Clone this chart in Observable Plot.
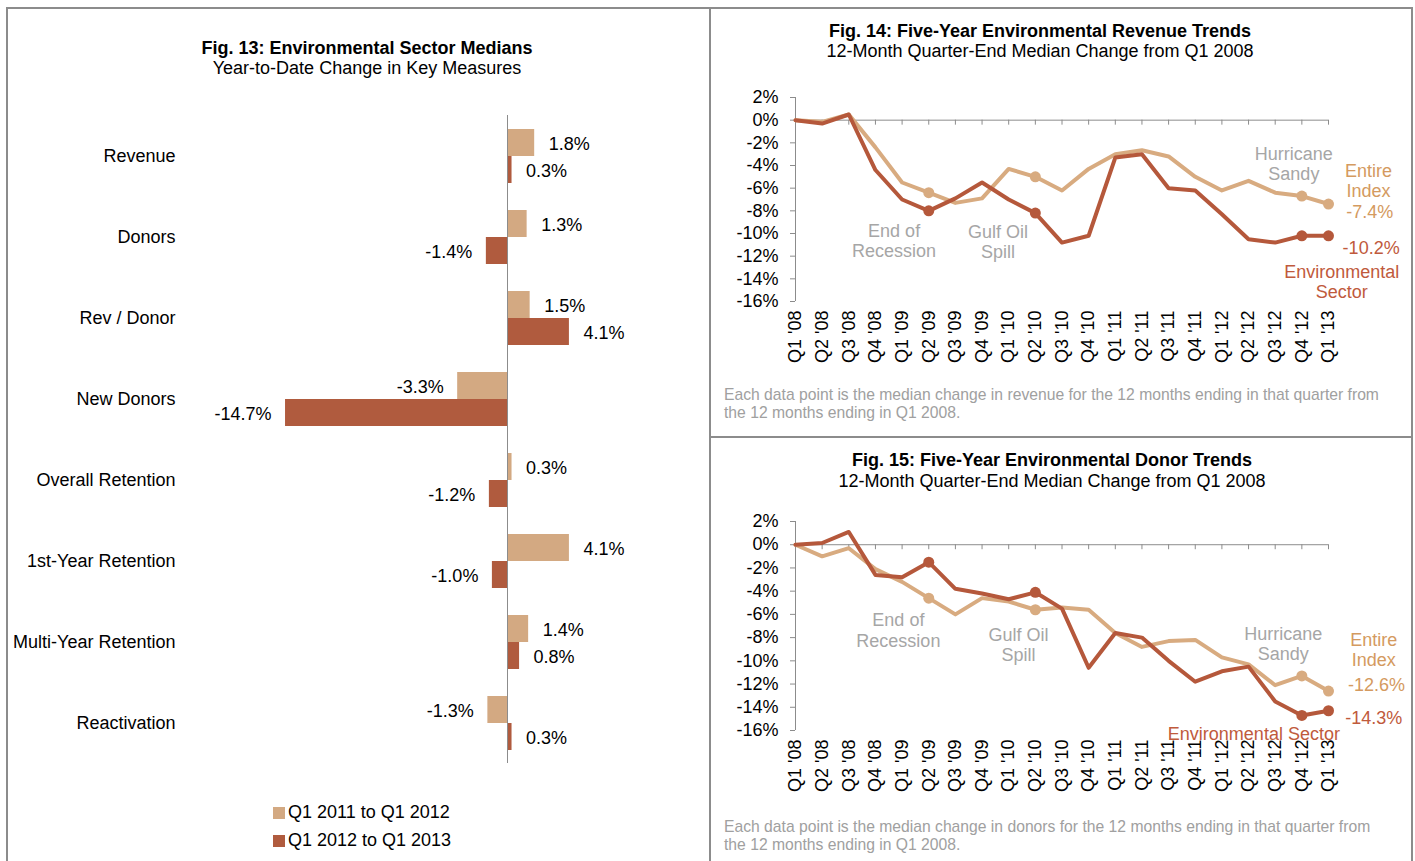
<!DOCTYPE html>
<html>
<head>
<meta charset="utf-8">
<script src="https://cdn.jsdelivr.net/npm/d3@7"></script>
<script src="https://cdn.jsdelivr.net/npm/@observablehq/plot@0.6"></script>
<style>
  body { margin: 0; background: #fff; font-family: "Liberation Sans", Arial, sans-serif; }
  #wrap { position: relative; width: 1415px; height: 861px; overflow: hidden; background: #fff; }
  .box { position: absolute; box-sizing: border-box; border: 2px solid #8c8c8c; }
  .t { position: absolute; text-align: center; font-size: 18px; line-height: 20px; color: #000; white-space: nowrap; }
  .t.b { font-weight: bold; }
  .note { position: absolute; font-size: 15.7px; line-height: 18px; color: #a0a0a0; white-space: nowrap; }
  .chart { position: absolute; }
  .leg { position: absolute; font-size: 18px; line-height: 20px; color: #000; white-space: nowrap; }
  .sw { position: absolute; width: 12px; height: 12px; }
</style>
</head>
<body>
<div id="wrap">
  <div class="box" style="left:6px;top:7px;width:705px;height:900px;"></div>
  <div class="box" style="left:709px;top:7px;width:704px;height:431px;"></div>
  <div class="box" style="left:709px;top:436px;width:704px;height:500px;"></div>

  <div class="t b" style="left:67px;width:600px;top:38px;">Fig. 13: Environmental Sector Medians</div>
  <div class="t" style="left:67px;width:600px;top:58px;">Year-to-Date Change in Key Measures</div>

  <div class="t b" style="left:740px;width:600px;top:21px;">Fig. 14: Five-Year Environmental Revenue Trends</div>
  <div class="t" style="left:740px;width:600px;top:41px;">12-Month Quarter-End Median Change from Q1 2008</div>

  <div class="t b" style="left:752px;width:600px;top:450px;">Fig. 15: Five-Year Environmental Donor Trends</div>
  <div class="t" style="left:752px;width:600px;top:471px;">12-Month Quarter-End Median Change from Q1 2008</div>

  <div id="bars" class="chart" style="left:8px;top:100px;"></div>
  <div id="rev" class="chart" style="left:710px;top:80px;"></div>
  <div id="don" class="chart" style="left:710px;top:500px;"></div>

  <div class="note" style="left:724px;top:386px;">Each data point is the median change in revenue for the 12 months ending in that quarter from<br>the 12 months ending in Q1 2008.</div>
  <div class="note" style="left:724px;top:818px;">Each data point is the median change in donors for the 12 months ending in that quarter from<br>the 12 months ending in Q1 2008.</div>

  <div id="legend"></div>
</div>
<script>
// ---------- Data ----------
const categories = ["Revenue", "Donors", "Rev / Donor", "New Donors", "Overall Retention",
  "1st-Year Retention", "Multi-Year Retention", "Reactivation"];
const seriesNames = ["Q1 2011 to Q1 2012", "Q1 2012 to Q1 2013"];
const values2011to2012 = [1.8, 1.3, 1.5, -3.3, 0.3, 4.1, 1.4, -1.3];
const values2012to2013 = [0.3, -1.4, 4.1, -14.7, -1.2, -1.0, 0.8, 0.3];

const quarters = ["Q1 '08", "Q2 '08", "Q3 '08", "Q4 '08", "Q1 '09", "Q2 '09", "Q3 '09", "Q4 '09",
  "Q1 '10", "Q2 '10", "Q3 '10", "Q4 '10", "Q1 '11", "Q2 '11", "Q3 '11", "Q4 '11",
  "Q1 '12", "Q2 '12", "Q3 '12", "Q4 '12", "Q1 '13"];
const revenueEnvironmental = [0, -0.3, 0.5, -4.4, -7.0, -8.0, -6.9, -5.5, -7.0, -8.2, -10.8,
  -10.2, -3.3, -3.0, -6.0, -6.2, -8.3, -10.5, -10.8, -10.2, -10.2];
const revenueIndex = [0, -0.15, 0.5, -2.4, -5.5, -6.4, -7.3, -6.9, -4.3, -5.0, -6.2,
  -4.3, -3.0, -2.65, -3.2, -5.0, -6.2, -5.35, -6.4, -6.7, -7.4];
const donorsEnvironmental = [0, 0.15, 1.1, -2.6, -2.8, -1.5, -3.8, -4.2, -4.7, -4.1, -5.5,
  -10.6, -7.6, -8.0, -10.0, -11.8, -10.9, -10.5, -13.5, -14.7, -14.3];
const donorsIndex = [0, -1.0, -0.3, -2.1, -3.2, -4.6, -6.0, -4.6, -4.9, -5.6, -5.4,
  -5.6, -7.6, -8.8, -8.3, -8.2, -9.7, -10.3, -12.1, -11.3, -12.6];
const markedQuarters = ["Q2 '09", "Q2 '10", "Q4 '12", "Q1 '13"];
const yTicks = [2, 0, -2, -4, -6, -8, -10, -12, -14, -16];

// ---------- Styles ----------
const FONT = '"Liberation Sans", Arial, sans-serif';
const lightBar = "#d3a982", darkBar = "#b05b3e";
const lightLine = "#d8ab80", darkLine = "#b5583b";
const lightText = "#d49a60", darkText = "#c05a3c";
const grayText = "#a6a6a6", axisGray = "#8c8c8c";
const fmt = v => v.toFixed(1) + "%";

// ---------- Fig. 13 ----------
const barRows = categories.flatMap((c, i) => [
  {category: c, series: seriesNames[0], value: values2011to2012[i]},
  {category: c, series: seriesNames[1], value: values2012to2013[i]}
]);

const bars = Plot.plot({
  width: 700, height: 682,
  marginLeft: 272.5, marginRight: 125.5, marginTop: 14, marginBottom: 18,
  style: {fontFamily: FONT, fontSize: "18px", background: "transparent", color: "#000"},
  x: {domain: [-15, 5], axis: null},
  y: {domain: seriesNames, paddingInner: 0, paddingOuter: 0.5, axis: null},
  fy: {domain: categories, padding: 0, axis: null},
  color: {domain: seriesNames, range: [lightBar, darkBar]},
  marks: [
    Plot.barX(barRows, {fy: "category", y: "series", x: "value", fill: "series"}),
    Plot.ruleX([0], {stroke: axisGray, strokeWidth: 1}),
    Plot.text(barRows.filter(d => d.value >= 0), {fy: "category", y: "series", x: "value",
      text: d => fmt(d.value), textAnchor: "start", dx: 14, dy: 1, fontSize: 18, fill: "#000"}),
    Plot.text(barRows.filter(d => d.value < 0), {fy: "category", y: "series", x: "value",
      text: d => fmt(d.value), textAnchor: "end", dx: -14, dy: 1, fontSize: 18, fill: "#000"}),
    Plot.text(categories, {fy: d => d, text: d => d, frameAnchor: "left",
      textAnchor: "end", dx: -105.5, dy: 0.5, fontSize: 18, fill: "#000"})
  ]
});
document.getElementById("bars").appendChild(bars);

// legend
const legend = document.getElementById("legend");
[[seriesNames[0], lightBar, 802], [seriesNames[1], darkBar, 830]].forEach(([name, col, top]) => {
  const sw = document.createElement("div");
  sw.className = "sw"; sw.style.left = "273px"; sw.style.top = (top + 5) + "px"; sw.style.background = col;
  const lb = document.createElement("div");
  lb.className = "leg"; lb.style.left = "288px"; lb.style.top = top + "px"; lb.textContent = name;
  legend.appendChild(sw); legend.appendChild(lb);
});

// ---------- Fig. 14 & 15 ----------
function lineChart(env, idx, o) {
  const mk = vals => vals.map((v, i) => ({i, q: quarters[i], v}));
  const envRows = mk(env), idxRows = mk(idx);
  const txt = (s, x, y, fill) =>
    Plot.text([s], {x, y, text: d => d, fill, fontSize: 18, lineHeight: 1.12});
  return Plot.plot({
    width: 700, height: o.height,
    marginLeft: 85, marginRight: 82, marginTop: o.top, marginBottom: o.bottom,
    style: {fontFamily: FONT, fontSize: "18px", background: "transparent", color: "#000"},
    x: {domain: [0, quarters.length - 1], label: null},
    y: {domain: [-16, 2], label: null},
    marks: [
      Plot.ruleY([0], {stroke: axisGray}),
      Plot.ruleX(quarters.map((q, i) => i), {x: d => d, y1: 0, y2: 0, insetBottom: -5, stroke: axisGray}),
      Plot.ruleX([0], {stroke: axisGray}),
      Plot.axisY({ticks: yTicks, tickFormat: d => d + "%", tickSize: 5, tickPadding: 12,
        fontSize: 18, stroke: axisGray, fill: "#000", label: null}),
      Plot.axisX({ticks: quarters.map((q, i) => i), tickFormat: i => quarters[i], tickRotate: -90,
        tickSize: 0, tickPadding: 9, fontSize: 18, fill: "#000", label: null}),
      Plot.line(idxRows, {x: "i", y: "v", stroke: lightLine, strokeWidth: 4, strokeLinejoin: "round"}),
      Plot.line(envRows, {x: "i", y: "v", stroke: darkLine, strokeWidth: 4, strokeLinejoin: "round"}),
      Plot.dot(idxRows.filter(d => markedQuarters.includes(d.q)), {x: "i", y: "v", r: 5.5, fill: lightLine}),
      Plot.dot(envRows.filter(d => markedQuarters.includes(d.q)), {x: "i", y: "v", r: 5.5, fill: darkLine}),
      ...o.notes.map(n => txt(n[0], n[1], n[2], n[3]))
    ]
  });
}

const rev = lineChart(revenueEnvironmental, revenueIndex, {
  height: 300, top: 17, bottom: 79,
  notes: [
    ["End of\nRecession", 3.7, -10.6, grayText],
    ["Gulf Oil\nSpill", 7.6, -10.7, grayText],
    ["Hurricane\nSandy", 18.7, -3.8, grayText],
    ["Entire\nIndex", 21.5, -5.35, lightText],
    [fmt(revenueIndex[revenueIndex.length - 1]), 21.55, -8.1, lightText],
    [fmt(revenueEnvironmental[revenueEnvironmental.length - 1]), 21.6, -11.2, darkText],
    ["Environmental\nSector", 20.5, -14.25, darkText]
  ]
});
document.getElementById("rev").appendChild(rev);

const don = lineChart(donorsEnvironmental, donorsIndex, {
  height: 310, top: 21, bottom: 80,
  notes: [
    ["End of\nRecession", 3.86, -7.35, grayText],
    ["Gulf Oil\nSpill", 8.37, -8.6, grayText],
    ["Hurricane\nSandy", 18.3, -8.5, grayText],
    ["Entire\nIndex", 21.7, -9.0, lightText],
    [fmt(donorsIndex[donorsIndex.length - 1]), 21.8, -12.0, lightText],
    [fmt(donorsEnvironmental[donorsEnvironmental.length - 1]), 21.7, -14.9, darkText],
    ["Environmental Sector", 17.2, -16.3, darkText]
  ]
});
document.getElementById("don").appendChild(don);
</script>
</body>
</html>
